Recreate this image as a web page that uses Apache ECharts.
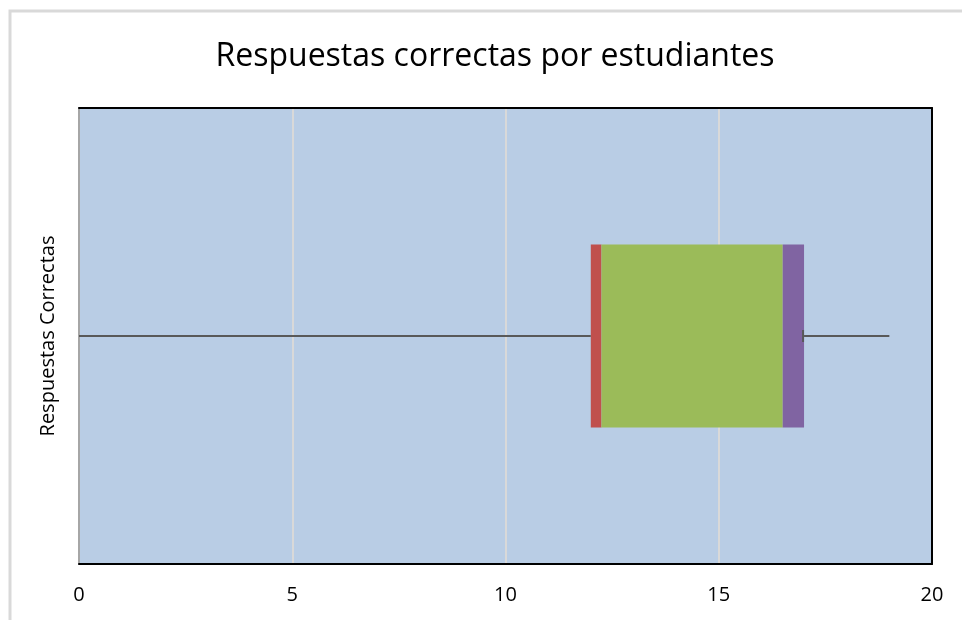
<!DOCTYPE html>
<html>
<head>
<meta charset="utf-8">
<script src="https://cdn.jsdelivr.net/npm/echarts@6/dist/echarts.min.js"></script>
<style>
  html, body { margin: 0; padding: 0; background: #fff; }
  #chart { width: 962px; height: 620px; }
</style>
</head>
<body>
<div id="chart"></div>
<script>
// box plot built as a stacked bar, like the spreadsheet trick
const categories = ['Respuestas Correctas'];
const baseValues = [12];      // invisible offset up to Q1
const redValues = [0.25];
const greenValues = [4.25];
const purpleValues = [0.5];
const whiskerLow = [0];
const whiskerHigh = [19];
const xTicks = [0, 5, 10, 15, 20];

const chart = echarts.init(document.getElementById('chart'));
const font = '"Open Sans", "Noto Sans", sans-serif';

const option = {
  animation: false,
  backgroundColor: '#ffffff',
  title: {
    text: 'Respuestas correctas por estudiantes',
    left: 490,
    textAlign: 'center',
    top: 36,
    textStyle: { fontFamily: font, fontSize: 32, fontWeight: 'normal', color: '#000' }
  },
  graphic: [{
    type: 'polyline',
    shape: { points: [[10, 640], [10, 11], [980, 11]] },
    style: { stroke: '#d9d9d9', lineWidth: 3, fill: null },
    silent: true
  }],
  grid: {
    left: 79, right: 30, top: 108, bottom: 56,
    show: true, backgroundColor: '#b9cde5', borderWidth: 0
  },
  xAxis: [{
    type: 'value',
    min: xTicks[0],
    max: xTicks[xTicks.length - 1],
    interval: 5,
    axisLine: { show: true, lineStyle: { color: '#000', width: 2 } },
    axisTick: { show: false },
    axisLabel: { fontFamily: font, fontSize: 20, color: '#000', margin: 21 },
    splitLine: { show: true, lineStyle: { color: '#d9d9d9', width: 2 } }
  }, {
    type: 'value',
    position: 'top',
    min: 0, max: 20,
    axisLine: { show: true, onZero: false, lineStyle: { color: '#000', width: 2 } },
    axisTick: { show: false },
    axisLabel: { show: false },
    splitLine: { show: false }
  }],
  yAxis: [{
    type: 'category',
    data: categories,
    name: 'Respuestas Correctas',
    nameLocation: 'middle',
    nameGap: 21,
    nameTextStyle: { fontFamily: font, fontSize: 20, color: '#000' },
    axisLine: { show: true, lineStyle: { color: '#a6a6a6', width: 2 } },
    axisTick: { show: false },
    axisLabel: { show: false }
  }, {
    type: 'category',
    data: categories,
    position: 'right',
    axisLine: { show: true, onZero: false, lineStyle: { color: '#000', width: 2 } },
    axisTick: { show: false },
    axisLabel: { show: false }
  }],
  series: [
    {
      type: 'bar', stack: 'box', data: baseValues, barWidth: 183,
      itemStyle: { color: 'transparent' }, silent: true
    },
    { type: 'bar', stack: 'box', data: redValues, itemStyle: { color: '#c0504d' } },
    { type: 'bar', stack: 'box', data: greenValues, itemStyle: { color: '#9bbb59' } },
    { type: 'bar', stack: 'box', data: purpleValues, itemStyle: { color: '#8064a2' } },
    {
      type: 'custom',
      z: 5,
      data: categories.map((c, i) => [
        whiskerLow[i], baseValues[i],
        baseValues[i] + redValues[i] + greenValues[i] + purpleValues[i],
        whiskerHigh[i], i
      ]),
      renderItem: function (params, api) {
        const cat = api.value(4);
        const pLow = api.coord([api.value(0), cat]);
        const pQ1 = api.coord([api.value(1), cat]);
        const pQ3 = api.coord([api.value(2), cat]);
        const pHigh = api.coord([api.value(3), cat]);
        const st = { stroke: '#595959', lineWidth: 2 };
        return {
          type: 'group',
          children: [
            { type: 'line', shape: { x1: pLow[0], y1: pLow[1], x2: pQ1[0], y2: pQ1[1] }, style: st },
            { type: 'line', shape: { x1: pQ3[0], y1: pQ3[1], x2: pHigh[0], y2: pHigh[1] }, style: st },
            { type: 'line', shape: { x1: pQ3[0] - 1, y1: pQ3[1] - 6, x2: pQ3[0] - 1, y2: pQ3[1] + 6 }, style: st }
          ]
        };
      }
    }
  ]
};

chart.setOption(option);
</script>
</body>
</html>
